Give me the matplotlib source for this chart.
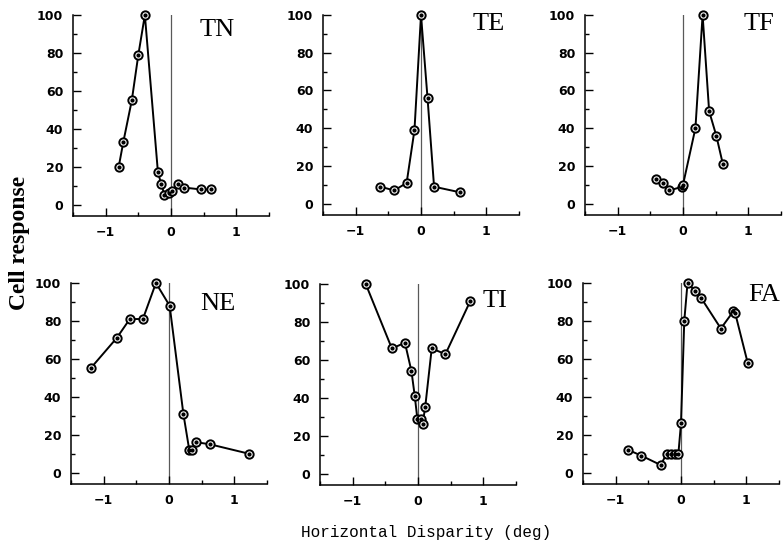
import matplotlib
matplotlib.use('Agg')
from matplotlib import pyplot as plt
from matplotlib.ticker import MultipleLocator

# horizontal disparity (deg) and cell response (% of max) per cell type
tn_x = [-0.8, -0.73, -0.6, -0.5, -0.4, -0.2, -0.15, -0.1, -0.03, 0.02, 0.11, 0.2, 0.46, 0.61]
tn_y = [20, 33, 55, 79, 100, 17, 11, 5, 6, 7, 11, 9, 8, 8]

te_x = [-0.62, -0.41, -0.22, -0.1, 0.0, 0.1, 0.2, 0.6]
te_y = [9, 7, 11, 39, 100, 56, 9, 6]

tf_x = [-0.42, -0.31, -0.21, -0.01, 0.0, 0.19, 0.3, 0.4, 0.51, 0.61]
tf_y = [13, 11, 7, 9, 10, 40, 100, 49, 36, 21]

ne_x = [-1.2, -0.8, -0.6, -0.4, -0.2, 0.01, 0.22, 0.31, 0.35, 0.42, 0.62, 1.22]
ne_y = [55, 71, 81, 81, 100, 88, 31, 12, 12, 16, 15, 10]

ti_x = [-0.8, -0.4, -0.2, -0.1, -0.05, -0.01, 0.04, 0.07, 0.11, 0.21, 0.42, 0.8]
ti_y = [100, 66, 69, 54, 41, 29, 29, 26, 35, 66, 63, 91]

fa_x = [-0.81, -0.61, -0.31, -0.22, -0.15, -0.09, -0.04, 0.0, 0.05, 0.1, 0.21, 0.31, 0.61, 0.8, 0.83, 1.02]
fa_y = [12, 9, 4, 10, 10, 10, 10, 26, 80, 100, 96, 92, 76, 85, 84, 58]

names = ['TN', 'TE', 'TF', 'NE', 'TI', 'FA']
series = [(tn_x, tn_y), (te_x, te_y), (tf_x, tf_y), (ne_x, ne_y), (ti_x, ti_y), (fa_x, fa_y)]

W, H = 784, 546
fig = plt.figure(figsize=(W / 100, H / 100), dpi=100)

# axes boxes in pixels: left, bottom spine y, top (y=100) y
boxes = [(73, 216, 15), (323, 215, 15), (585, 215, 15),
         (71, 484, 283), (320, 485, 284), (583, 484, 283)]
# panel label positions in pixels (left, centre y)
label_pos = [(200, 30), (473, 24), (744, 24), (200, 304), (483, 301), (748, 295)]

for i, (name, (xs, ys)) in enumerate(zip(names, series)):
    left, bot, top = boxes[i]
    ax = fig.add_axes([left / W, 1 - bot / H, 196 / W, (bot - top) / H])
    ax.set_xlim(-1.5, 1.5)
    ax.set_ylim(-6, 100)
    ax.axvline(0, color='0.35', lw=0.9, zorder=1)
    ax.plot(xs, ys, color='black', lw=1.4, zorder=2, clip_on=False)
    ax.plot(xs, ys, 'o', ms=6, mfc='white', mec='black', mew=1.4, zorder=3, clip_on=False)
    ax.plot(xs, ys, 'o', ms=2, color='black', zorder=4, clip_on=False)

    for s in ['top', 'right']:
        ax.spines[s].set_visible(False)
    for s in ['left', 'bottom']:
        ax.spines[s].set_linewidth(1.1)
    ax.xaxis.set_major_locator(MultipleLocator(1))
    ax.xaxis.set_minor_locator(MultipleLocator(0.5))
    ax.yaxis.set_major_locator(MultipleLocator(20))
    ax.yaxis.set_minor_locator(MultipleLocator(10))
    ax.tick_params(which='major', direction='in', length=6, width=1, pad=7, labelsize=9)
    ax.tick_params(which='minor', direction='in', length=3, width=1)
    ax.set_xticks([-1, 0, 1])
    ax.set_xticklabels(['\u22121', '0', '1'])
    for lab in ax.get_xticklabels() + ax.get_yticklabels():
        lab.set_fontweight('bold')

    lx, ly = label_pos[i]
    fig.text(lx / W, 1 - ly / H, name, family='Liberation Serif', fontsize=19,
             ha='left', va='center')

fig.text(20 / W, 1 - 243 / H, 'Cell response', family='Liberation Serif',
         fontweight='bold', fontsize=17, rotation=90, ha='center', va='center')
fig.text(426 / W, 1 - 532 / H, 'Horizontal Disparity (deg)', family='Liberation Mono',
         fontsize=11.5, ha='center', va='center')

fig.savefig('out.png', dpi=100)
